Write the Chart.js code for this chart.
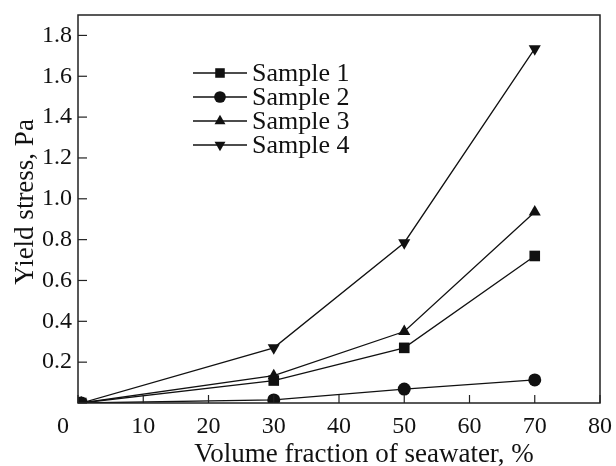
<!DOCTYPE html>
<html>
<head>
<meta charset="utf-8">
<script src="https://cdn.jsdelivr.net/npm/chart.js@4.4.1/dist/chart.umd.min.js"></script>
<style>
  html, body { margin: 0; padding: 0; background: #fff; }
  #wrap { width: 616px; height: 466px; position: relative; }
</style>
</head>
<body>
<div id="wrap"><canvas id="chart"></canvas></div>
<script>
// Data
const volumeFraction = [0.5, 30, 50, 70];
const sample1 = [0, 0.11, 0.27, 0.72];
const sample2 = [0, 0.015, 0.068, 0.113];
const sample3 = [0, 0.134, 0.35, 0.935];
const sample4 = [0, 0.27, 0.785, 1.735];
const seriesNames = ['Sample 1', 'Sample 2', 'Sample 3', 'Sample 4'];
const xTicks = [0, 10, 20, 30, 40, 50, 60, 70, 80];
const yTicks = [0, 0.2, 0.4, 0.6, 0.8, 1.0, 1.2, 1.4, 1.6, 1.8];
const xTitle = 'Volume fraction of seawater, %';
const yTitle = 'Yield stress, Pa';

const INK = '#111';
const FONT = '"Liberation Serif", "DejaVu Serif", serif';

const markers = [
    { pointStyle: 'rect', radius: 7.5, rotation: 0 },
    { pointStyle: 'circle', radius: 6.5, rotation: 0 },
    { pointStyle: 'triangle', radius: 7, rotation: 0 },
    { pointStyle: 'triangle', radius: 7, rotation: 180 }
];

function toPoints(values) {
    return values.map((v, i) => ({ x: volumeFraction[i], y: v }));
}

const datasets = [sample1, sample2, sample3, sample4].map((values, i) => ({
    label: seriesNames[i],
    data: toPoints(values),
    borderColor: INK,
    backgroundColor: INK,
    borderWidth: 1.3,
    pointStyle: markers[i].pointStyle,
    pointRadius: markers[i].radius,
    pointRotation: markers[i].rotation,
    pointBorderWidth: 0,
    tension: 0
}));

// frame, inward ticks, axis titles and the legend
const framePlugin = {
    id: 'frame',
    afterDraw(chart) {
        const ctx = chart.ctx;
        const area = chart.chartArea;
        const xs = chart.scales.x;
        const ys = chart.scales.y;
        ctx.save();
        ctx.strokeStyle = '#222';
        ctx.lineWidth = 1.5;
        ctx.strokeRect(area.left, area.top, area.right - area.left, area.bottom - area.top);

        ctx.lineWidth = 1.2;
        xTicks.forEach(t => {
            const px = xs.getPixelForValue(t);
            ctx.beginPath();
            ctx.moveTo(px, area.bottom);
            ctx.lineTo(px, area.bottom - 8);
            ctx.stroke();
        });
        yTicks.forEach(t => {
            const py = ys.getPixelForValue(t);
            ctx.beginPath();
            ctx.moveTo(area.left, py);
            ctx.lineTo(area.left + 9, py);
            ctx.stroke();
        });

        // axis titles
        ctx.fillStyle = INK;
        ctx.font = '27px ' + FONT;
        ctx.textAlign = 'center';
        ctx.textBaseline = 'alphabetic';
        ctx.fillText(xTitle, area.left + 286, 462);
        ctx.save();
        ctx.translate(33, 202);
        ctx.rotate(-Math.PI / 2);
        ctx.fillText(yTitle, 0, 0);
        ctx.restore();

        // legend
        const lx = area.left + 115;
        const rows = [73, 97, 121, 145];
        ctx.font = '26px ' + FONT;
        ctx.textAlign = 'left';
        ctx.textBaseline = 'middle';
        seriesNames.forEach((name, i) => {
            const y = rows[i];
            ctx.strokeStyle = INK;
            ctx.lineWidth = 1.3;
            ctx.beginPath();
            ctx.moveTo(lx, y);
            ctx.lineTo(lx + 54, y);
            ctx.stroke();
            Chart.helpers.drawPoint(ctx, {
                pointStyle: markers[i].pointStyle,
                radius: markers[i].radius * 0.9,
                rotation: markers[i].rotation,
                borderWidth: 0
            }, lx + 27, y);
            ctx.fillText(name, lx + 59, y + 1);
        });
        ctx.restore();
    }
};

document.addEventListener('DOMContentLoaded', () => {
    new Chart(document.getElementById('chart'), {
        type: 'line',
        data: { datasets: datasets },
        options: {
            responsive: true,
            maintainAspectRatio: false,
            animation: false,
            layout: { padding: { top: 15, right: 16, left: 0, bottom: 0 } },
            plugins: {
                legend: { display: false },
                tooltip: { enabled: false }
            },
            scales: {
                x: {
                    type: 'linear',
                    min: 0,
                    max: 80,
                    afterBuildTicks: s => { s.ticks = xTicks.map(v => ({ value: v })); },
                    afterFit: s => { s.height = 63; s.paddingLeft = 0; s.paddingRight = 0; },
                    grid: { display: false, drawTicks: false },
                    border: { display: false },
                    ticks: {
                        color: INK,
                        padding: 9,
                        maxRotation: 0,
                        font: { family: FONT, size: 24 },
                        callback: v => v === 0 ? '0     ' : String(v)
                    }
                },
                y: {
                    type: 'linear',
                    min: 0,
                    max: 1.9,
                    afterBuildTicks: s => { s.ticks = yTicks.map(v => ({ value: v })); },
                    afterFit: s => { s.width = 78; s.paddingTop = 0; s.paddingBottom = 0; },
                    grid: { display: false, drawTicks: false },
                    border: { display: false },
                    ticks: {
                        color: INK,
                        padding: 6,
                        font: { family: FONT, size: 24 },
                        callback: v => v === 0 ? '' : v.toFixed(1)
                    }
                }
            }
        },
        plugins: [framePlugin]
    });
});
</script>
</body>
</html>
